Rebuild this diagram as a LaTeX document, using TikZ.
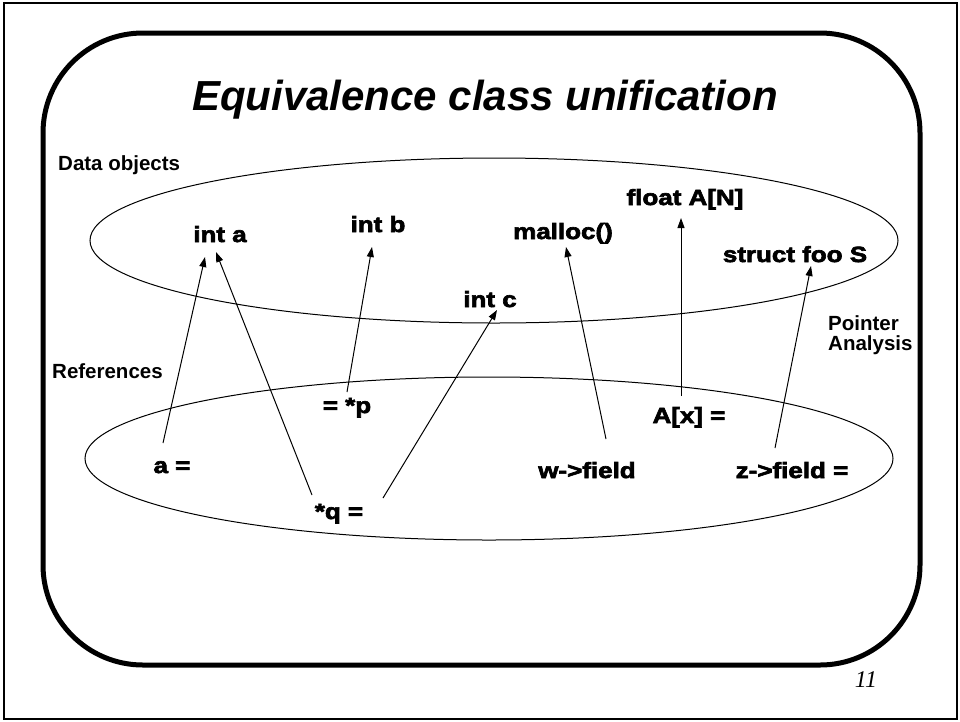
\documentclass[tikz,border=0pt]{standalone}
\usepackage{fontspec}
\setmainfont{Liberation Sans}
\newfontfamily\heavyfont{Liberation Sans Bold}[FakeStretch=1.18,FakeBold=3]
\newfontfamily\numfont{Liberation Serif}
\usetikzlibrary{arrows.meta}

\tikzset{
  obj/.style={inner sep=0pt, anchor=base, font=\heavyfont\fontsize{22}{24}\selectfont},
  side/.style={inner sep=0pt, anchor=base west, font=\bfseries\fontsize{20.5}{23}\selectfont, align=left},
  arr/.style={line width=1pt, -{Triangle[length=10pt,width=7pt]}},
  thinline/.style={line width=1pt}
}

\begin{document}
\begin{tikzpicture}[x=1pt, y=-1pt]
\useasboundingbox (0,0) rectangle (960,721);

% page frame and slide border
\draw[line width=1.5pt] (4,3) rectangle (957,719);
\draw[line width=5pt, rounded corners=100pt] (43,33) rectangle (920,665);

% title
\node[inner sep=0pt, anchor=base, font=\bfseries\itshape\fontsize{42}{46}\selectfont]
  (title) at (485,110) {Equivalence class unification};

% the two sets
\draw[thinline] (494,240.5) ellipse [x radius=404pt, y radius=82.5pt];
\draw[thinline] (489,458.5) ellipse [x radius=404pt, y radius=81.5pt];

% side labels
\node[side] (dataobj) at (58,170) {Data objects};
\node[side] (refs) at (52,378) {References};
\node[side] (pa) at (828,350) {Pointer\\[-3pt]Analysis};

% data objects
\node[obj] (inta) at (220,242) {int a};
\node[obj] (intb) at (378,232) {int b};
\node[obj] (intc) at (490,307) {int c};
\node[obj] (malloc) at (563,239) {malloc()};
\node[obj] (floatA) at (685,205) {float A[N]};
\node[obj] (foo) at (795,262) {struct foo S};

% references
\node[obj] (aeq) at (172,473) {a =};
\node[obj] (peq) at (347,413) {= *p};
\node[obj] (qeq) at (339,519) {*q =};
\node[obj] (axeq) at (689,423) {A[x] =};
\node[obj] (wf) at (587,478) {w->field};
\node[obj] (zf) at (792,478) {z->field =};

% page number
\node[inner sep=0pt, anchor=base, font=\numfont\itshape\fontsize{24}{26}\selectfont]
  (pnum) at (866,687) {11};

% points-to edges
\draw[arr] ([shift={(-9,-30)}]aeq.base) -- ([shift={(-15,15)}]inta.base);
\draw[arr] ([shift={(-27,-24)}]qeq.base) -- ([shift={(-4,10)}]inta.base);
\draw[arr] ([shift={(0,-21)}]peq.base) -- ([shift={(-6,15)}]intb.base);
\draw[arr] ([shift={(44,-21)}]qeq.base) -- ([shift={(7,3)}]intc.base);
\draw[arr] ([shift={(19,-39)}]wf.base) -- ([shift={(3,8)}]malloc.base);
\draw[arr] ([shift={(-8,-27)}]axeq.base) -- ([shift={(-4,13)}]floatA.base);
\draw[arr] ([shift={(-17,-30)}]zf.base) -- ([shift={(16,4)}]foo.base);
\end{tikzpicture}
\end{document}
